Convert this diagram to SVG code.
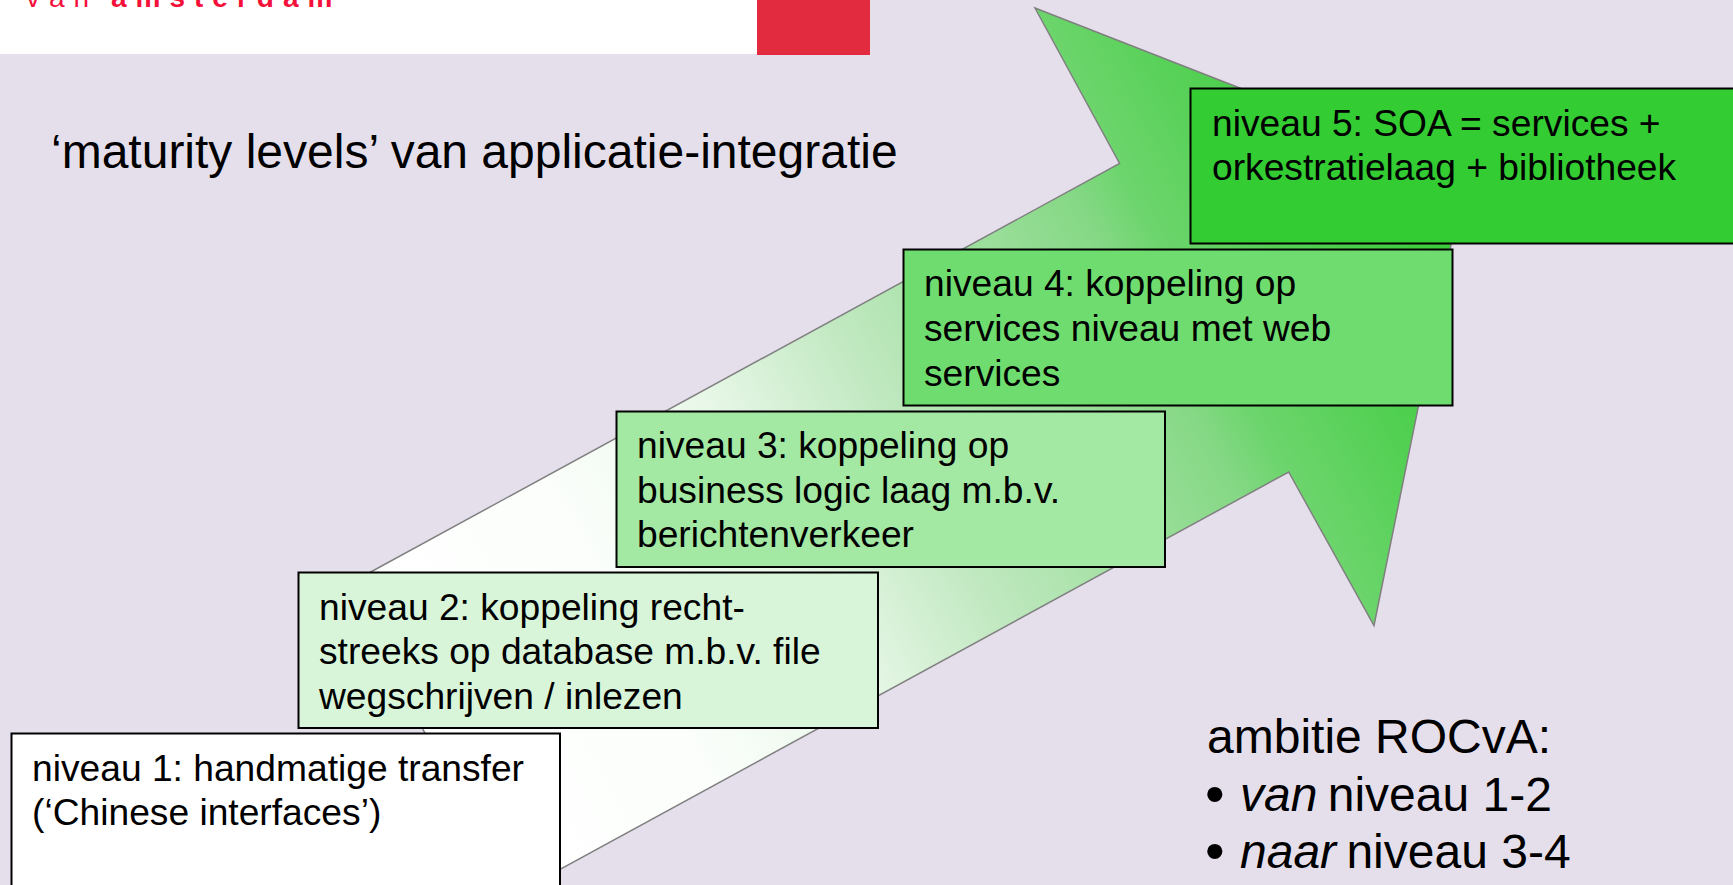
<svg xmlns="http://www.w3.org/2000/svg" width="1733" height="885" viewBox="0 0 1733 885">
<style>
text{font-family:"Liberation Sans",Arial,sans-serif;fill:#000}
.l{font-size:37.2px}
.b{stroke:#000;stroke-width:2}
.big{font-size:48px}
.dot{font-size:56px}
.r{fill:#f5103a;font-size:28px}
</style>
<defs>
<linearGradient id="g" gradientUnits="userSpaceOnUse" x1="400" y1="700" x2="1436" y2="136">
<stop offset="0" stop-color="#fff"/><stop offset="0.2" stop-color="#fbfefb"/><stop offset="0.35" stop-color="#e8f7e8"/><stop offset="0.48" stop-color="#c0e8c0"/><stop offset="0.707" stop-color="#85d885"/><stop offset="0.75" stop-color="#6dd56d"/><stop offset="0.85" stop-color="#52d052"/><stop offset="1" stop-color="#33cc33"/>
</linearGradient>
</defs>
<rect width="1733" height="885" fill="#e5dfec"/>
<g id="logo">
<rect x="0" y="0" width="757" height="54" fill="#fff"/>
<rect x="757" y="0" width="113" height="55" fill="#e32b40"/>
<text class="r" x="26" y="7" letter-spacing="9">van</text>
<text class="r" x="111" y="7" letter-spacing="9" font-weight="bold">amsterdam</text>
</g>
<text x="51" y="168" font-size="48">‘maturity levels’ van applicatie-integratie</text>
<g id="arrow">
<polygon points="345,586 1119.6,163.5 1035,8 1465,176 1374,625.5 1288.7,472 513,895" fill="url(#g)" stroke="#808080" stroke-width="1.5"/>
</g>
<g id="n1"><rect class="b" x="11.500" y="733.500" width="548.500" height="170" fill="#fff"/>
<text class="l" x="32" y="781">niveau 1: handmatige transfer</text><text class="l" x="32" y="825">(‘Chinese interfaces’)</text></g>
<g id="n2"><rect class="b" x="298.500" y="572.500" width="579.500" height="155.500" fill="#d9f5d9"/>
<text class="l" x="319" y="620">niveau 2: koppeling recht-</text><text class="l" x="319" y="664">streeks op database m.b.v. file</text><text class="l" x="319" y="709">wegschrijven / inlezen</text></g>
<g id="n3"><rect class="b" x="616.500" y="411.500" width="548.500" height="155.500" fill="#a3e8a3"/>
<text class="l" x="637" y="458">niveau 3: koppeling op</text><text class="l" x="637" y="503">business logic laag m.b.v.</text><text class="l" x="637" y="547">berichtenverkeer</text></g>
<g id="n4"><rect class="b" x="903.500" y="249.500" width="549" height="156" fill="#6fdc6f"/>
<text class="l" x="924" y="296">niveau 4: koppeling op</text><text class="l" x="924" y="341">services niveau met web</text><text class="l" x="924" y="386">services</text></g>
<g id="n5"><rect class="b" x="1190.500" y="88.500" width="560" height="155" fill="#33cc33"/>
<text class="l" x="1212" y="136">niveau 5: SOA = services +</text><text class="l" x="1212" y="180">orkestratielaag + bibliotheek</text></g>
<g id="ambitie">
<text class="big" x="1207" y="753">ambitie ROCvA:</text>
<text class="dot" x="1205" y="813">•</text><text class="big" x="1240" y="811"><tspan font-style="italic">van</tspan><tspan dx="-3"> niveau 1-2</tspan></text>
<text class="dot" x="1205" y="870">•</text><text class="big" x="1240" y="868"><tspan font-style="italic">naar</tspan><tspan dx="-3"> niveau 3-4</tspan></text>
</g>
</svg>
